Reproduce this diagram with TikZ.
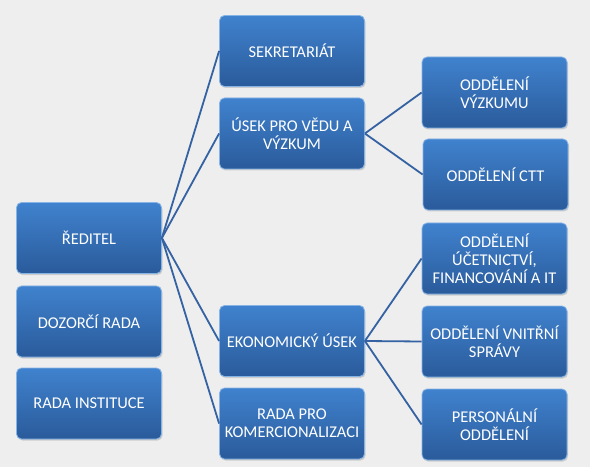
\documentclass[tikz,border=0pt]{standalone}
\usepackage{fontspec}
\setmainfont{Carlito}
\usetikzlibrary{shadows}
\definecolor{orgbg}{HTML}{EEEEEE}
\definecolor{orgtop}{HTML}{4082CE}
\definecolor{orgbot}{HTML}{2A5B9B}
\definecolor{orgedge}{HTML}{86B4E6}
\definecolor{orgline}{HTML}{3462A2}
\tikzset{
  orgbox/.style={
    rounded corners=5bp, top color=orgtop, bottom color=orgbot,
    draw=orgedge, line width=0.8bp, minimum width=145bp,
    minimum height=71bp, inner sep=2bp, align=center, text=white,
    font=\fontsize{16.5}{18}\selectfont,
    drop shadow={opacity=0.3, shadow xshift=1bp, shadow yshift=-1.5bp}},
  orglink/.style={draw=orgline, line width=1.8bp},
}

\begin{document}
\begin{tikzpicture}[x=1bp, y=-1bp]

% Canvas.
\fill[orgbg] (0, 0) rectangle (590, 467);
\useasboundingbox (0, 0) rectangle (590, 467);

% Left column: director and boards.
\node[orgbox] (reditel) at (89, 238) {ŘEDITEL};
\node[orgbox] (dozorci) at (89, 321.5) {DOZORČÍ RADA};
\node[orgbox] (instituce) at (89, 403.5) {RADA INSTITUCE};

% Middle column: units under the director.
\node[orgbox] (sekretariat) at (292, 51) {SEKRETARIÁT};
\node[orgbox] (usek) at (292, 133.5) {ÚSEK PRO VĚDU A\\VÝZKUM};
\node[orgbox] (ekonom) at (292, 341) {EKONOMICKÝ ÚSEK};
\node[orgbox] (komerc) at (292, 423.5) {RADA PRO\\KOMERCIONALIZACI};

% Right column: departments.
\node[orgbox] (vyzkum) at (494.5, 92.5) {ODDĚLENÍ\\VÝZKUMU};
\node[orgbox] (ctt) at (495.5, 174.5) {ODDĚLENÍ CTT};
\node[orgbox] (ucetni) at (494.5, 258.5)
  {ODDĚLENÍ\\ÚČETNICTVÍ,\\FINANCOVÁNÍ A IT};
\node[orgbox] (vnitrni) at (494.5, 341.5) {ODDĚLENÍ VNITŘNÍ\\SPRÁVY};
\node[orgbox] (personal) at (494.5, 424.5) {PERSONÁLNÍ\\ODDĚLENÍ};

% Reporting lines.
\foreach \t in {sekretariat, usek, ekonom, komerc}
  \draw[orglink] (reditel.east) -- (\t.west);
\foreach \t in {vyzkum, ctt}
  \draw[orglink] (usek.east) -- (\t.west);
\foreach \t in {ucetni, vnitrni, personal}
  \draw[orglink] (ekonom.east) -- (\t.west);

\end{tikzpicture}
\end{document}
